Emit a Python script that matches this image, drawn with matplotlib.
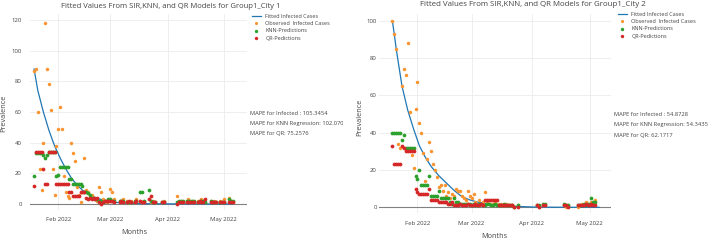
import numpy as np
import pandas as pd
import matplotlib
matplotlib.use('Agg')
import matplotlib.pyplot as plt
from matplotlib.transforms import Bbox, TransformedBbox

plt.rcParams['font.family'] = ['Open Sans', 'DejaVu Sans']

# ---- data (day offsets from 2022-01-19) ----
start = pd.Timestamp('2022-01-19')

# City 1
days_c1 = list(range(44)) + [46, 47, 48, 50, 51, 52, 54, 55, 57, 58, 59, 62, 63, 64, 65, 69, 70,
                             77, 78, 79, 80, 82, 83, 84, 85, 86, 88, 89, 90, 91, 92, 95, 96, 97,
                             98, 100, 101, 102, 105, 106, 107]
obs_c1 = [87, 88, 60, 23, 9, 40, 118, 88, 78, 61, 23, 6, 38, 49, 63, 49, 18, 8, 5, 4,
          40, 33, 28, 11, 6, 1, 8, 30, 9, 8, 5, 6, 4, 3, 2, 11, 8, 3, 2, 1, 2, 10, 8, 3,
          2, 1, 3, 2, 1, 2, 1, 3, 2, 1, 2, 3, 1, 2, 1, 1, 2, 5, 1, 2, 1, 2, 3, 1, 2, 1,
          2, 1, 3, 2, 1, 2, 1, 2, 1, 2, 1, 3, 4, 2, 1]
knn_c1 = [18, 33, 33, 33, 33, 32, 30, 32, 34, 34, 34, 34, 18, 19, 24, 24, 24, 24, 24, 16,
          16, 13, 13, 13, 13, 13, 12, 8, 8, 7, 6, 4, 4, 3, 3, 2, 2, 1, 2, 2, 3, 3, 2, 2,
          2, 2, 2, 1, 1, 1, 2, 2, 8, 8, 2, 9, 2, 1, 1, 1, 1, 1, 2, 2, 2, 2, 2, 2, 2, 2,
          1, 2, 2, 2, 1, 2, 1, 1, 1, 1, 1, 1, 3, 2, 2]
qr_c1 = [12, 34, 34, 34, 34, 23, 13, 13, 34, 34, 34, 34, 13, 13, 13, 13, 13, 13, 13, 8,
         8, 5, 5, 5, 5, 8, 8, 8, 4, 3, 4, 3, 4, 3, 4, 1, 0, 1, 2, 2, 2, 2, 2, 1,
         1, 2, 1, 1, 2, 1, 1, 2, 2, 1, 1, 3, 5, 1, 1, 1, 1, 0, 1, 1, 1, 1, 1, 1, 1, 1,
         1, 2, 1, 1, 3, 1, 1, 1, 1, 1, 1, 1, 1, 1, 1]
fit_days_c1 = [0, 2, 5, 8, 11, 14, 17, 20, 23, 26, 29, 32, 36, 40, 44, 50, 60, 75, 90, 107]
fit_c1 = [88, 74, 60, 48, 38, 30, 23, 17, 12.5, 9, 6.5, 4.5, 3, 1.8, 1, 0.5, 0.2, 0.05, 0, 0]
mape_c1 = ['105.3454', '102.0702', '75.2576']

# City 2
days_c2 = list(range(49)) + [49, 50, 51, 52, 53, 54, 55, 56, 57, 58, 59, 60, 61, 62, 63, 65,
                             75, 76, 78, 79, 89, 90, 91, 96, 97, 98, 99, 100, 101, 102, 103, 104, 105]
obs_c2 = [100, 93, 85, 34, 32, 65, 74, 71, 88, 51, 28, 21, 53, 67, 45, 40, 29, 14, 26, 35,
          30, 23, 20, 16, 11, 12, 9, 12, 6, 8, 5, 7, 6, 10, 9, 9, 6, 5, 4, 9, 6, 5, 7, 3,
          2, 4, 2, 3, 8,
          3, 2, 1, 2, 3, 1, 2, 2, 1, 1, 2, 1, 1, 1, 0, 1, 1, 0, 1, 1, 1, 0, 1, 0, 1, 2,
          1, 3, 2, 1, 3, 2, 4]
knn_c2 = [40, 40, 40, 40, 40, 36, 39, 32, 32, 32, 32, 32, 17, 15, 20, 12, 12, 12, 12, 17,
          6, 6, 6, 6, 9, 5, 5, 5, 5, 5, 3, 2, 5, 3, 3, 2, 2, 2, 2, 2, 2, 1, 2, 1, 1, 2,
          2, 1, 1,
          2, 2, 1, 1, 2, 1, 1, 1, 1, 2, 1, 1, 1, 1, 0, 1, 1, 1, 2, 2, 2, 1, 1, 1, 1, 1,
          2, 1, 2, 2, 5, 3, 3]
qr_c2 = [33, 23, 23, 23, 23, 33, 32, 30, 30, 30, 30, 30, 10, 8, 7, 7, 7, 7, 7, 10,
         4, 4, 4, 4, 3, 3, 3, 3, 3, 2, 2, 3, 1, 1, 1, 2, 1, 1, 1, 2, 1, 1, 1, 2, 1, 1,
         2, 1, 4,
         4, 4, 4, 4, 4, 4, 1, 1, 1, 1, 1, 1, 1, 1, 0, 0, 1, 0, 1, 1, 1, 1, 0, 1, 1, 1,
         1, 2, 1, 1, 2, 1, 1]
fit_days_c2 = [0, 1, 2, 5, 8, 11, 14, 17, 20, 24, 28, 32, 36, 40, 44, 50, 60, 75, 90, 107]
fit_c2 = [100, 93, 85, 65, 52, 42, 33, 27, 22, 17, 13, 9, 5.7, 4, 2.8, 1.6, 0.6, 0.1, 0, 0]
mape_c2 = ['54.8728', '54.3435', '62.1717']

month_ticks = ['2022-02-01', '2022-03-01', '2022-04-01', '2022-05-01']
month_labels = ['Feb 2022', 'Mar 2022', 'Apr 2022', 'May 2022']
legend_labels = ['Fitted Infected Cases', 'Observed  Infected Cases', 'KNN-Predictions', 'QR-Pedictions']

W, H = 708, 240
TXT = '#444444'


def dates(d):
    return start + pd.to_timedelta(np.array(d, dtype=float), unit='D')


def px(x, y):
    return x / W, 1 - y / H


fig = plt.figure(figsize=(W / 100, H / 100), dpi=100)


def panel(rect, days, obs, knn, qr, fdays, fit, xr, yr, yticks, ypad, xpad):
    ax = fig.add_axes(rect)
    ax.plot(dates(fdays), fit, color='#1f77b4', lw=0.9, zorder=3, label=legend_labels[0])
    ax.plot(dates(days), obs, 'o', ms=2.5, mew=0, color='#fa9431', zorder=4, label=legend_labels[1])
    ax.plot(dates(days), knn, 'o', ms=2.7, mew=0, color='#2ca02c', zorder=5, label=legend_labels[2])
    ax.plot(dates(days), qr, 'o', ms=2.7, mew=0, color='#d62728', zorder=6, label=legend_labels[3])
    ax.axhline(0, color='#808080', lw=0.8, zorder=2)
    ax.set_xlim(start + pd.Timedelta(days=xr[0]), start + pd.Timedelta(days=xr[1]))
    ax.set_ylim(*yr)
    ax.set_yticks(yticks)
    ax.set_xticks(pd.to_datetime(month_ticks))
    ax.set_xticklabels(month_labels)
    ax.grid(True, color='#ebebeb', lw=0.6, zorder=0)
    ax.set_axisbelow(True)
    for s in ax.spines.values():
        s.set_visible(False)
    ax.tick_params(axis='both', length=0, labelsize=4.3, colors=TXT)
    ax.tick_params(axis='y', pad=ypad)
    ax.tick_params(axis='x', pad=xpad)
    return ax


# left panel: plot area x 30..247 px, y 14..210 px
ax1 = panel([30 / W, 29.9 / H, 217 / W, 196.2 / H], days_c1, obs_c1, knn_c1, qr_c1,
            fit_days_c1, fit_c1, (-2.2, 114.5), (-4, 124), [0, 20, 40, 60, 80, 100, 120], 6, 5)
# right panel: plot area x 379..611 px, y 13.5..213 px
ax2 = panel([379 / W, 27.1 / H, 232 / W, 199.4 / H], days_c2, obs_c2, knn_c2, qr_c2,
            fit_days_c2, fit_c2, (-6.9, 113.1), (-3, 104), [0, 20, 40, 60, 80, 100], 1.5, 6)

# titles and axis labels
fig.text(*px(171, 6), 'Fitted Values From SIR,KNN, and QR Models for Group1_City 1',
         ha='center', va='center', fontsize=5.5, color=TXT)
fig.text(*px(533, 4.5), 'Fitted Values From SIR,KNN, and QR Models for Group1_City 2',
         ha='center', va='center', fontsize=5.7, color=TXT)
fig.text(*px(134, 233), 'Months', ha='center', va='center', fontsize=5.2, color=TXT)
fig.text(*px(494, 237), 'Months', ha='center', va='center', fontsize=5.2, color=TXT)
fig.text(*px(4, 113), 'Prevalence', ha='center', va='center', rotation=90, fontsize=5.2, color=TXT)
fig.text(*px(360, 117), 'Prevalence', ha='center', va='center', rotation=90, fontsize=5.2, color=TXT)

# legends
for ax, lx, ly in [(ax1, 252, 13.5), (ax2, 618, 11.5)]:
    ax.legend(loc='upper left', bbox_to_anchor=px(lx, ly), bbox_transform=fig.transFigure,
              frameon=False, fontsize=4.0, labelcolor=TXT, handlelength=1.6, handletextpad=0.8,
              labelspacing=0.45, borderpad=0, borderaxespad=0, markerscale=0.9)

# MAPE annotations
clip = TransformedBbox(Bbox([[0, 0], [343 / W, 1]]), fig.transFigure)
for (x0, ys, vals, cut) in [(250, (113.7, 123.5, 133.3), mape_c1, True),
                            (614, (114, 124.5, 135.5), mape_c2, False)]:
    lines = ['MAPE for Infected : ' + vals[0],
             'MAPE for KNN Regression: ' + vals[1],
             'MAPE for QR: ' + vals[2]]
    for y, s in zip(ys, lines):
        t = fig.text(*px(x0, y), s, ha='left', va='center', fontsize=4.15, color=TXT)
        if cut:
            t.set_clip_box(clip)
            t.set_clip_on(True)

fig.savefig('out.png', dpi=100, facecolor='white')
